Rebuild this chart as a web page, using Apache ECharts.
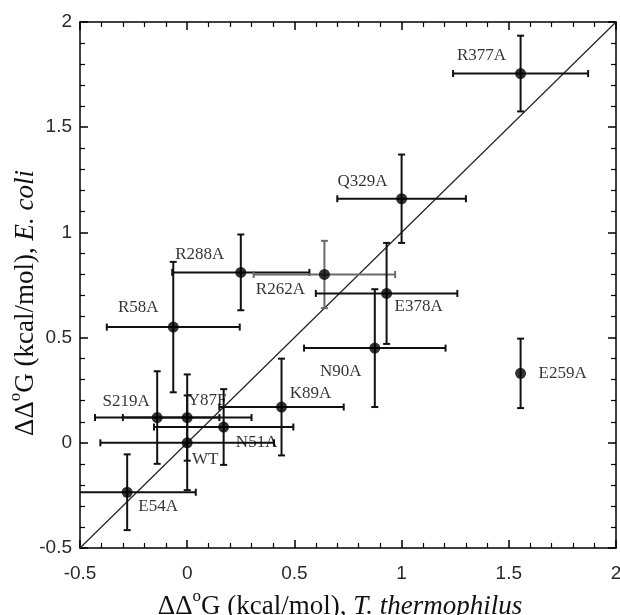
<!DOCTYPE html>
<html>
<head>
<meta charset="utf-8">
<script src="https://cdn.jsdelivr.net/npm/echarts@6/dist/echarts.min.js"></script>
<style>html,body{margin:0;padding:0;background:#fff}#c{width:620px;height:615px}</style>
</head>
<body>
<div id="c"></div>
<script>
// ---- data ----
var mutants = ['WT','Y87F','S219A','N51A','E54A','K89A','R58A','R288A','R262A','E378A','N90A','Q329A','R377A','E259A'];
var ddgTth  = [0, 0, -0.14, 0.17, -0.28, 0.44, -0.065, 0.25, 0.64, 0.93, 0.875, 1.0, 1.555, 1.555];
var ddgEco  = [0, 0.12, 0.12, 0.075, -0.235, 0.17, 0.55, 0.81, 0.80, 0.71, 0.45, 1.16, 1.755, 0.33];
var errTth  = [0.405, 0.30, 0.29, 0.325, 0.32, 0.29, 0.31, 0.32, 0.33, 0.33, 0.33, 0.30, 0.315, 0];
var errEco  = [0.225, 0.205, 0.22, 0.18, 0.18, 0.23, 0.31, 0.18, 0.16, 0.24, 0.28, 0.21, 0.18, 0.165];
var diagonal = [-0.5, 2];
var axisTicks = [-0.5, 0, 0.5, 1, 1.5, 2];

// ---- label placement (pixels, relative to point) ----
var labelOffsets = {
  'WT':[18,17],'Y87F':[20,-17],'S219A':[-31,-16],'N51A':[33,16],'E54A':[31,14],
  'K89A':[29,-14],'R58A':[-35,-20],'R288A':[-41,-18],'R262A':[-44,15],'E378A':[32,13],
  'N90A':[-34,23],'Q329A':[-39,-17],'R377A':[-39,-18],'E259A':[42,0]
};
var grayBars = {'R262A':true};

var chart = echarts.init(document.getElementById('c'), null, {renderer:'canvas'});
var serif = 'Liberation Serif, Times New Roman, serif';
var sans = 'Liberation Sans, Arial, sans-serif';
var lo = axisTicks[0], hi = axisTicks[axisTicks.length-1];

var errData = mutants.map(function(n,i){ return [ddgTth[i], ddgEco[i], errTth[i], errEco[i], i]; });
var ptData = mutants.map(function(n,i){
  return {name:n, value:[ddgTth[i], ddgEco[i]], label:{offset:labelOffsets[n]}};
});

function clampv(v){ return Math.max(lo, Math.min(hi, v)); }

function renderErr(params, api){
  var x = api.value(0), y = api.value(1), ex = api.value(2), ey = api.value(3), idx = api.value(4);
  var col = grayBars[mutants[idx]] ? '#6a6a6a' : '#111';
  var st = {stroke: col, lineWidth: 2, fill: null};
  var cap = 3.5;
  var ch = [];
  if (ey > 0) {
    var t = api.coord([x, clampv(y+ey)]), b = api.coord([x, clampv(y-ey)]);
    ch.push({type:'line', shape:{x1:t[0],y1:t[1],x2:b[0],y2:b[1]}, style:st});
    if (y+ey <= hi) ch.push({type:'line', shape:{x1:t[0]-cap,y1:t[1],x2:t[0]+cap,y2:t[1]}, style:st});
    if (y-ey >= lo) ch.push({type:'line', shape:{x1:b[0]-cap,y1:b[1],x2:b[0]+cap,y2:b[1]}, style:st});
  }
  if (ex > 0) {
    var l = api.coord([clampv(x-ex), y]), r = api.coord([clampv(x+ex), y]);
    ch.push({type:'line', shape:{x1:l[0],y1:l[1],x2:r[0],y2:r[1]}, style:st});
    if (x-ex >= lo) ch.push({type:'line', shape:{x1:l[0],y1:l[1]-cap,x2:l[0],y2:l[1]+cap}, style:st});
    if (x+ex <= hi) ch.push({type:'line', shape:{x1:r[0],y1:r[1]-cap,x2:r[0],y2:r[1]+cap}, style:st});
  }
  return {type:'group', children:ch};
}

var richName = {
  d:{fontFamily:serif, fontSize:27, color:'#111', lineHeight:32, verticalAlign:'bottom'},
  s:{fontFamily:serif, fontSize:17, color:'#111', lineHeight:32, verticalAlign:'top'},
  i:{fontFamily:serif, fontSize:27, color:'#111', fontStyle:'italic', lineHeight:32, verticalAlign:'bottom'}
};

function mainAxis(isX){
  return {
    type:'value', min:lo, max:hi, interval:0.5,
    axisLine:{show:true, onZero:false, lineStyle:{color:'#000', width:1.5}},
    axisTick:{show:true, inside:true, length:8, lineStyle:{color:'#000', width:1.5}},
    minorTick:{show:true, splitNumber:5, length:5, lineStyle:{color:'#000', width:1.2}},
    splitLine:{show:false},
    axisLabel:{show:true, fontFamily:sans, fontSize:19, color:'#2a2a2a', margin:isX?16:8,
      hideOverlap:false, formatter:function(v){ return String(v); }},
    nameLocation:'middle',
    nameMoveOverlap:false,
    nameTextStyle:{fontFamily:serif, fontSize:27, color:'#111', rich:richName,
      padding: isX ? [0,16,0,0] : [0,36,0,0]}
  };
}
function mirrorAxis(pos){
  return {
    type:'value', min:lo, max:hi, interval:0.5, position:pos,
    axisLine:{show:true, onZero:false, lineStyle:{color:'#000', width:1.5}},
    axisTick:{show:true, inside:true, length:8, lineStyle:{color:'#000', width:1.5}},
    minorTick:{show:true, splitNumber:5, length:5, lineStyle:{color:'#000', width:1.2}},
    splitLine:{show:false}, axisLabel:{show:false}
  };
}

var xMain = mainAxis(true);
xMain.position = 'bottom';
xMain.name = '{d|ΔΔ}{s|o}{d|G (kcal/mol), }{i|T. thermophilus}';
xMain.nameGap = 40;
var yMain = mainAxis(false);
yMain.position = 'left';
yMain.name = '{d|ΔΔ}{s|o}{d|G (kcal/mol), }{i|E. coli}';
yMain.nameGap = 41;
yMain.nameRotate = 90;

chart.setOption({
  animation:false,
  backgroundColor:'#fff',
  grid:{left:80, right:4, top:22, bottom:67, containLabel:false, outerBoundsMode:'none'},
  xAxis:[xMain, mirrorAxis('top')],
  yAxis:[yMain, mirrorAxis('right')],
  series:[
    {type:'line', xAxisIndex:0, yAxisIndex:0, data:[[diagonal[0],diagonal[0]],[diagonal[1],diagonal[1]]],
     symbol:'none', lineStyle:{color:'#222', width:1.2}, silent:true, z:1},
    {type:'custom', xAxisIndex:0, yAxisIndex:0, data:errData, renderItem:renderErr, z:2,
     encode:{x:0, y:1}},
    {type:'scatter', xAxisIndex:0, yAxisIndex:0, data:ptData, symbol:'circle', symbolSize:11,
     itemStyle:{color:'#000'}, z:3,
     label:{show:true, position:'inside', formatter:'{b}', fontFamily:serif, fontSize:17, color:'#000',
       textBorderWidth:0, textBorderColor:'transparent'}}
  ]
});
</script>
</body>
</html>
